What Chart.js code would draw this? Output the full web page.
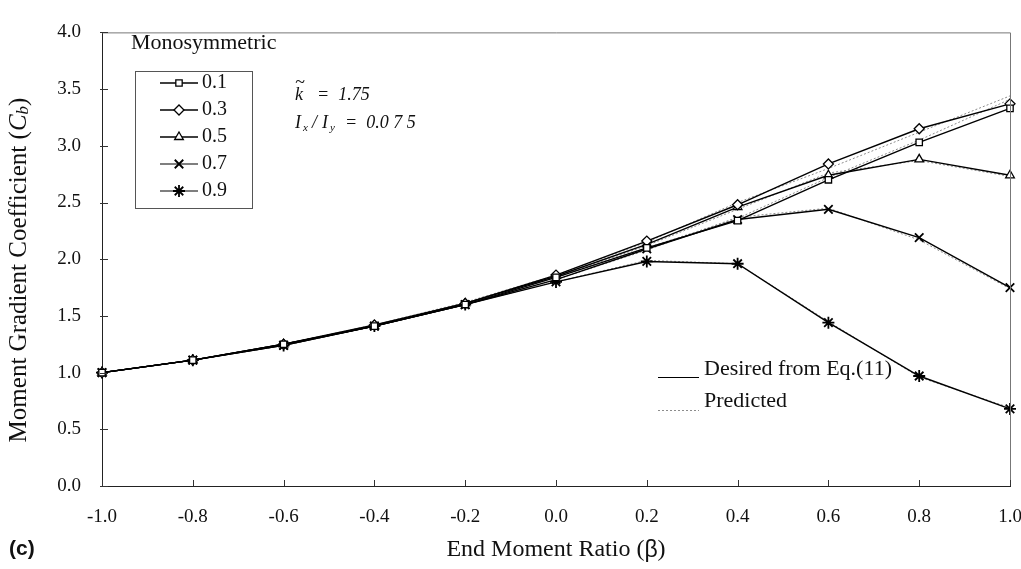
<!DOCTYPE html>
<html>
<head>
<meta charset="utf-8">
<script src="https://cdn.jsdelivr.net/npm/chart.js@4.4.1/dist/chart.umd.min.js"></script>
<style>
  html, body { margin: 0; padding: 0; background: #fff; }
  #wrap { width: 1021px; height: 569px; }
</style>
</head>
<body>
<div id="wrap"><canvas id="cbChart" width="1021" height="569"></canvas></div>
<script>
// End moment ratio (beta)
const beta = [-1.0, -0.8, -0.6, -0.4, -0.2, 0.0, 0.2, 0.4, 0.6, 0.8, 1.0];

// Desired from Eq.(11)
const desired01 = [1.00, 1.11, 1.25, 1.41, 1.60, 1.84, 2.10, 2.34, 2.70, 3.03, 3.33];
const desired03 = [1.00, 1.11, 1.25, 1.42, 1.61, 1.86, 2.16, 2.48, 2.84, 3.15, 3.37];
const desired05 = [1.00, 1.11, 1.25, 1.41, 1.61, 1.85, 2.13, 2.46, 2.74, 2.88, 2.74];
const desired07 = [1.00, 1.11, 1.24, 1.41, 1.60, 1.82, 2.09, 2.35, 2.44, 2.19, 1.75];
const desired09 = [1.00, 1.11, 1.24, 1.41, 1.60, 1.80, 1.98, 1.96, 1.44, 0.97, 0.68];

// Predicted
const predicted01 = [1.00, 1.11, 1.25, 1.42, 1.61, 1.84, 2.10, 2.36, 2.72, 3.05, 3.41];
const predicted03 = [1.00, 1.11, 1.25, 1.42, 1.62, 1.86, 2.15, 2.50, 2.80, 3.12, 3.44];
const predicted05 = [1.00, 1.11, 1.25, 1.41, 1.61, 1.84, 2.12, 2.44, 2.76, 2.87, 2.73];
const predicted07 = [1.00, 1.11, 1.24, 1.41, 1.60, 1.82, 2.08, 2.37, 2.45, 2.17, 1.74];
const predicted09 = [1.00, 1.11, 1.24, 1.41, 1.60, 1.80, 1.99, 1.96, 1.45, 0.96, 0.69];

const seriesLabels = ['0.1', '0.3', '0.5', '0.7', '0.9'];
const desiredSets = [desired01, desired03, desired05, desired07, desired09];
const predictedSets = [predicted01, predicted03, predicted05, predicted07, predicted09];
const markerStyles = ['rect', 'rectRot', 'triangle', 'crossRot', 'star'];
const markerSizes = [4.5, 5, 5, 6, 6];

const xTicks = [-1.0, -0.8, -0.6, -0.4, -0.2, 0.0, 0.2, 0.4, 0.6, 0.8, 1.0];
const yTicks = [0.0, 0.5, 1.0, 1.5, 2.0, 2.5, 3.0, 3.5, 4.0];

const serif = "'Liberation Serif', 'Times New Roman', serif";

function toPoints(arr) {
  return beta.map((b, i) => ({ x: b, y: arr[i] }));
}

function fmt(v) {
  if (Math.abs(v) < 1e-9) return '0.0';
  return v.toFixed(1);
}

const datasets = [];
desiredSets.forEach((arr, i) => {
  datasets.push({
    label: seriesLabels[i],
    data: toPoints(arr),
    borderColor: '#000',
    borderWidth: 1.4,
    pointStyle: markerStyles[i],
    pointRadius: markerSizes[i],
    pointBackgroundColor: '#fff',
    pointBorderColor: '#000',
    pointBorderWidth: i >= 3 ? 1.8 : 1.3,
    tension: 0,
    clip: false
  });
});
predictedSets.forEach((arr, i) => {
  datasets.push({
    label: 'pred ' + seriesLabels[i],
    data: toPoints(arr),
    borderColor: '#8c8c8c',
    borderWidth: 1,
    borderDash: [2, 2],
    pointRadius: 0,
    tension: 0,
    clip: false
  });
});

// frame, inward ticks, titles and the drawn legends
const decorPlugin = {
  id: 'decor',
  afterDraw(chart) {
    const ctx = chart.ctx;
    const area = chart.chartArea;
    const xs = chart.scales.x;
    const ys = chart.scales.y;
    ctx.save();

    // top and right border
    ctx.strokeStyle = '#777';
    ctx.lineWidth = 1;
    ctx.beginPath();
    ctx.moveTo(area.left, area.top + 0.5);
    ctx.lineTo(area.right + 0.5, area.top + 0.5);
    ctx.lineTo(area.right + 0.5, area.bottom);
    ctx.stroke();

    // inward ticks
    ctx.strokeStyle = '#333';
    ctx.beginPath();
    yTicks.forEach(v => {
      const py = Math.round(ys.getPixelForValue(v)) + 0.5;
      ctx.moveTo(area.left - 2, py);
      ctx.lineTo(area.left + 6, py);
    });
    xTicks.forEach(v => {
      const px = Math.round(xs.getPixelForValue(v)) + 0.5;
      ctx.moveTo(px, area.bottom);
      ctx.lineTo(px, area.bottom - 6);
    });
    ctx.stroke();

    ctx.fillStyle = '#111';
    ctx.textBaseline = 'middle';

    // y axis title with subscript
    ctx.save();
    ctx.translate(19, 270);
    ctx.rotate(-Math.PI / 2);
    const p1 = 'Moment Gradient Coefficient (';
    ctx.font = '25px ' + serif;
    const w1 = ctx.measureText(p1).width;
    ctx.font = 'italic 25px ' + serif;
    const w2 = ctx.measureText('C').width;
    ctx.font = 'italic 17px ' + serif;
    const w3 = ctx.measureText('b').width;
    ctx.font = '25px ' + serif;
    const w4 = ctx.measureText(')').width;
    let tx = -(w1 + w2 + w3 + w4) / 2;
    ctx.textAlign = 'left';
    ctx.fillText(p1, tx, 0); tx += w1;
    ctx.font = 'italic 25px ' + serif;
    ctx.fillText('C', tx, 0); tx += w2;
    ctx.font = 'italic 17px ' + serif;
    ctx.fillText('b', tx, 5); tx += w3;
    ctx.font = '25px ' + serif;
    ctx.fillText(')', tx, 0);
    ctx.restore();

    // x axis title
    ctx.font = '24px ' + serif;
    const a1 = 'End Moment Ratio (';
    const aw1 = ctx.measureText(a1).width;
    ctx.font = '23px "Liberation Sans", Arial, sans-serif';
    const aw2 = ctx.measureText('\u03B2').width;
    ctx.font = '24px ' + serif;
    const aw3 = ctx.measureText(')').width;
    let ax = (area.left + area.right) / 2 - (aw1 + aw2 + aw3) / 2;
    ctx.textAlign = 'left';
    ctx.fillText(a1, ax, 550); ax += aw1;
    ctx.font = '23px "Liberation Sans", Arial, sans-serif';
    ctx.fillText('\u03B2', ax, 551); ax += aw2;
    ctx.font = '24px ' + serif;
    ctx.fillText(')', ax, 550);

    // (c)
    ctx.font = 'bold 21px "Liberation Sans", Arial, sans-serif';
    ctx.fillText('(c)', 9, 549);

    // Monosymmetric legend
    ctx.font = '22px ' + serif;
    ctx.fillText('Monosymmetric', 131, 43);
    ctx.strokeStyle = '#555';
    ctx.lineWidth = 1;
    ctx.strokeRect(135.5, 71.5, 117, 137);
    const rowY = [83, 110, 137, 164, 191];
    seriesLabels.forEach((lab, i) => {
      const y = rowY[i];
      ctx.strokeStyle = '#000';
      ctx.lineWidth = i >= 3 ? 1.1 : 1.4;
      ctx.beginPath();
      ctx.moveTo(160, y);
      ctx.lineTo(198, y);
      ctx.stroke();
      if (Chart.helpers && Chart.helpers.drawPoint) {
        ctx.fillStyle = '#fff';
        ctx.lineWidth = i >= 3 ? 1.8 : 1.3;
        Chart.helpers.drawPoint(ctx, {
          pointStyle: markerStyles[i],
          radius: markerSizes[i],
          rotation: 0,
          borderWidth: ctx.lineWidth
        }, 179, y);
      }
      ctx.fillStyle = '#111';
      ctx.font = '20px ' + serif;
      ctx.fillText(lab, 202, y);
    });

    // k and Ix/Iy annotation
    ctx.font = 'italic 18px ' + serif;
    ctx.fillText('k', 295, 95);
    ctx.fillText('~', 295, 83);
    ctx.fillText('=  1.75', 317, 95);
    ctx.fillText('I', 295, 123);
    ctx.font = 'italic 11px ' + serif;
    ctx.fillText('x', 303, 128);
    ctx.font = 'italic 18px ' + serif;
    ctx.fillText('/', 312, 123);
    ctx.fillText('I', 322, 123);
    ctx.font = 'italic 11px ' + serif;
    ctx.fillText('y', 330, 128);
    ctx.font = 'italic 18px ' + serif;
    ctx.fillText('=  0.0 7 5', 345, 123);

    // desired / predicted legend
    ctx.strokeStyle = '#000';
    ctx.lineWidth = 1.2;
    ctx.beginPath();
    ctx.moveTo(658, 377.5);
    ctx.lineTo(699, 377.5);
    ctx.stroke();
    ctx.strokeStyle = '#8c8c8c';
    ctx.lineWidth = 1;
    ctx.setLineDash([2, 2]);
    ctx.beginPath();
    ctx.moveTo(658, 410.5);
    ctx.lineTo(699, 410.5);
    ctx.stroke();
    ctx.setLineDash([]);
    ctx.fillStyle = '#111';
    ctx.font = '22px ' + serif;
    ctx.fillText('Desired from Eq.(11)', 704, 369);
    ctx.fillText('Predicted', 704, 401);

    ctx.restore();
  }
};

new Chart(document.getElementById('cbChart'), {
  type: 'line',
  data: { datasets: datasets },
  options: {
    responsive: false,
    animation: false,
    layout: { padding: { left: 0, right: 11, top: 22, bottom: 0 } },
    plugins: {
      legend: { display: false },
      tooltip: { enabled: false }
    },
    scales: {
      x: {
        type: 'linear',
        min: -1,
        max: 1,
        afterBuildTicks: (scale) => { scale.ticks = xTicks.map(v => ({ value: v })); },
        afterFit: (scale) => {
          scale.height = 83;
          scale.paddingLeft = 0;
          scale.paddingRight = 0;
        },
        grid: { display: false, drawTicks: false },
        border: { display: true, color: '#222', width: 1 },
        ticks: {
          padding: 20,
          maxRotation: 0,
          autoSkip: false,
          color: '#111',
          font: { family: serif, size: 19 },
          callback: (v) => fmt(v)
        }
      },
      y: {
        type: 'linear',
        min: 0,
        max: 4,
        afterBuildTicks: (scale) => { scale.ticks = yTicks.map(v => ({ value: v })); },
        afterFit: (scale) => { scale.width = 102; },
        grid: { display: false, drawTicks: false },
        border: { display: true, color: '#222', width: 1 },
        ticks: {
          padding: 21,
          autoSkip: false,
          color: '#111',
          font: { family: serif, size: 19 },
          callback: (v) => fmt(v)
        }
      }
    }
  },
  plugins: [decorPlugin]
});
</script>
</body>
</html>
